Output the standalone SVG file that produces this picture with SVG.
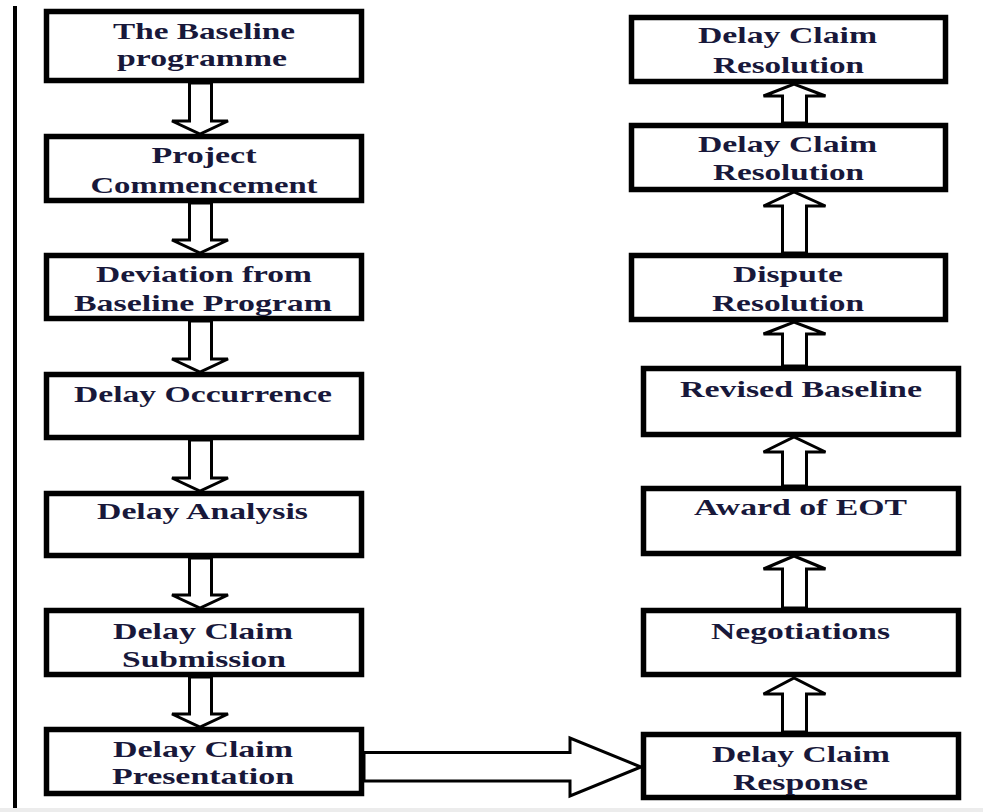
<svg xmlns="http://www.w3.org/2000/svg" width="983" height="812" viewBox="0 0 983 812">
  <style>
    .box { fill: #ffffff; stroke: #000000; stroke-width: 5.5; }
    .arrow { fill: #ffffff; stroke: #000000; stroke-width: 3; stroke-linejoin: miter; }
    .label { font-family: "Liberation Serif", "Times New Roman", serif; font-weight: bold; font-size: 24px; fill: #18183a; text-anchor: middle; }
  </style>

  <!-- page background, left rule and bottom strip -->
  <rect x="0" y="0" width="983" height="812" fill="#ffffff"/>
  <rect x="13" y="6" width="4" height="803" fill="#000000"/>
  <rect x="0" y="808" width="983" height="4" fill="#ececec"/>

  <!-- connectors: hollow block arrows -->
  <g id="connectors">
    <!-- left column, pointing down -->
    <polygon class="arrow" points="189.5,83 189.5,121 172,121 200,134 228,121 211.5,121 211.5,83"/>
    <polygon class="arrow" points="189.5,203 189.5,240 172,240 200,253 228,240 211.5,240 211.5,203"/>
    <polygon class="arrow" points="189.5,321 189.5,359 172,359 200,372 228,359 211.5,359 211.5,321"/>
    <polygon class="arrow" points="189.5,440 189.5,478 172,478 200,491 228,478 211.5,478 211.5,440"/>
    <polygon class="arrow" points="189.5,558 189.5,595 172,595 200,608 228,595 211.5,595 211.5,558"/>
    <polygon class="arrow" points="189.5,677 189.5,714 172,714 200,727 228,714 211.5,714 211.5,677"/>
    <!-- across: presentation to response -->
    <polygon class="arrow" points="364,752.5 570,752.5 570,738 641,767 570,796 570,781 364,781"/>
    <!-- right column, pointing up -->
    <polygon class="arrow" points="782.5,123 782.5,96 763.5,96 794,84 825.5,96 806.5,96 806.5,123"/>
    <polygon class="arrow" points="782.5,253 782.5,206 763.5,206 794,192 825.5,206 806.5,206 806.5,253"/>
    <polygon class="arrow" points="782.5,366 782.5,334 763.5,334 794,322 825.5,334 806.5,334 806.5,366"/>
    <polygon class="arrow" points="782.5,486 782.5,452 763.5,452 794,437 825.5,452 806.5,452 806.5,486"/>
    <polygon class="arrow" points="782.5,608 782.5,569 763.5,569 794,556 825.5,569 806.5,569 806.5,608"/>
    <polygon class="arrow" points="782.5,732 782.5,694 763.5,694 794,678 825.5,694 806.5,694 806.5,732"/>
  </g>

  <!-- left column -->
  <g id="baseline-programme">
    <rect class="box" x="46.5" y="11.5" width="315" height="69"/>
    <text class="label" x="204" y="39" textLength="182" lengthAdjust="spacingAndGlyphs">The Baseline</text>
    <text class="label" x="202" y="66" textLength="170" lengthAdjust="spacingAndGlyphs">programme</text>
  </g>
  <g id="project-commencement">
    <rect class="box" x="46.5" y="136.5" width="315" height="64"/>
    <text class="label" x="204" y="163" textLength="105" lengthAdjust="spacingAndGlyphs">Project</text>
    <text class="label" x="204" y="193" textLength="227" lengthAdjust="spacingAndGlyphs">Commencement</text>
  </g>
  <g id="deviation">
    <rect class="box" x="46.5" y="255.5" width="315" height="63"/>
    <text class="label" x="204" y="282" textLength="216" lengthAdjust="spacingAndGlyphs">Deviation from</text>
    <text class="label" x="203" y="311" textLength="258" lengthAdjust="spacingAndGlyphs">Baseline Program</text>
  </g>
  <g id="delay-occurrence">
    <rect class="box" x="46.5" y="374.5" width="315" height="63"/>
    <text class="label" x="203" y="402" textLength="258" lengthAdjust="spacingAndGlyphs">Delay Occurrence</text>
  </g>
  <g id="delay-analysis">
    <rect class="box" x="46.5" y="493.5" width="315" height="62"/>
    <text class="label" x="202.5" y="519" textLength="211" lengthAdjust="spacingAndGlyphs">Delay Analysis</text>
  </g>
  <g id="claim-submission">
    <rect class="box" x="46.5" y="610.5" width="315" height="64"/>
    <text class="label" x="203" y="639" textLength="180" lengthAdjust="spacingAndGlyphs">Delay Claim</text>
    <text class="label" x="204" y="667" textLength="164" lengthAdjust="spacingAndGlyphs">Submission</text>
  </g>
  <g id="claim-presentation">
    <rect class="box" x="46.5" y="729.5" width="315" height="64"/>
    <text class="label" x="203" y="757" textLength="180" lengthAdjust="spacingAndGlyphs">Delay Claim</text>
    <text class="label" x="203" y="784" textLength="182" lengthAdjust="spacingAndGlyphs">Presentation</text>
  </g>

  <!-- right column -->
  <g id="claim-resolution-final">
    <rect class="box" x="631.5" y="17.5" width="314" height="64"/>
    <text class="label" x="787.5" y="43" textLength="179" lengthAdjust="spacingAndGlyphs">Delay Claim</text>
    <text class="label" x="788.5" y="73" textLength="151" lengthAdjust="spacingAndGlyphs">Resolution</text>
  </g>
  <g id="claim-resolution">
    <rect class="box" x="631.5" y="125.5" width="314" height="64"/>
    <text class="label" x="787.5" y="152" textLength="179" lengthAdjust="spacingAndGlyphs">Delay Claim</text>
    <text class="label" x="788.5" y="180" textLength="151" lengthAdjust="spacingAndGlyphs">Resolution</text>
  </g>
  <g id="dispute-resolution">
    <rect class="box" x="631.5" y="255.5" width="314" height="64"/>
    <text class="label" x="788" y="282" textLength="110" lengthAdjust="spacingAndGlyphs">Dispute</text>
    <text class="label" x="788" y="311" textLength="152" lengthAdjust="spacingAndGlyphs">Resolution</text>
  </g>
  <g id="revised-baseline">
    <rect class="box" x="643.5" y="368.5" width="315" height="66"/>
    <text class="label" x="801" y="397" textLength="242" lengthAdjust="spacingAndGlyphs">Revised Baseline</text>
  </g>
  <g id="award-eot">
    <rect class="box" x="643.5" y="488.5" width="315" height="65"/>
    <text class="label" x="800.5" y="515" textLength="213" lengthAdjust="spacingAndGlyphs">Award of EOT</text>
  </g>
  <g id="negotiations">
    <rect class="box" x="643.5" y="610.5" width="315" height="64"/>
    <text class="label" x="800.5" y="639" textLength="179" lengthAdjust="spacingAndGlyphs">Negotiations</text>
  </g>
  <g id="claim-response">
    <rect class="box" x="643.5" y="734.5" width="315" height="63"/>
    <text class="label" x="801" y="762" textLength="178" lengthAdjust="spacingAndGlyphs">Delay Claim</text>
    <text class="label" x="800.5" y="790" textLength="135" lengthAdjust="spacingAndGlyphs">Response</text>
  </g>
</svg>
